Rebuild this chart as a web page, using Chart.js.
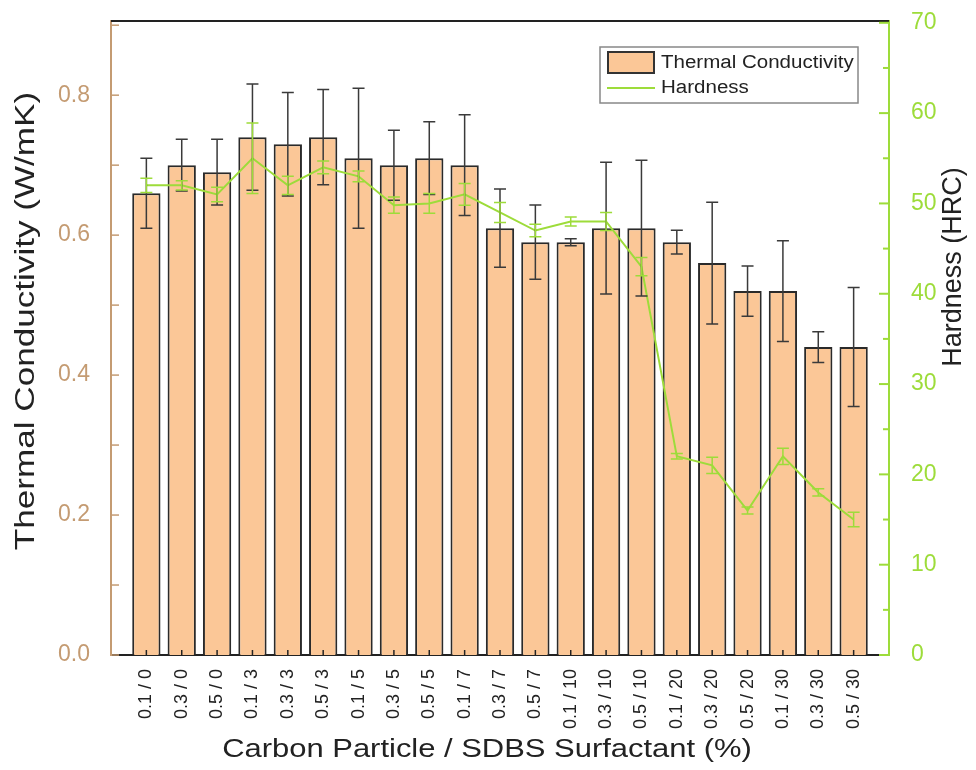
<!DOCTYPE html>
<html>
<head>
<meta charset="utf-8">
<script src="https://cdn.jsdelivr.net/npm/chart.js@4.4.1/dist/chart.umd.min.js"></script>
<style>
  body { margin: 0; background: #fff; }
  #wrap { width: 976px; height: 770px; }
</style>
</head>
<body>
<div id="wrap"><canvas id="myChart" width="976" height="770"></canvas></div>
<script>
// data
let labels = ["0.1 / 0","0.3 / 0","0.5 / 0","0.1 / 3","0.3 / 3","0.5 / 3","0.1 / 5","0.3 / 5","0.5 / 5","0.1 / 7","0.3 / 7","0.5 / 7",
  "0.1 / 10","0.3 / 10","0.5 / 10","0.1 / 20","0.3 / 20","0.5 / 20","0.1 / 30","0.3 / 30","0.5 / 30"];
let thermal = [0.66,0.70,0.69,0.74,0.73,0.74,0.71,0.70,0.71,0.70,0.61,0.59,0.59,0.61,0.61,0.59,0.56,0.52,0.52,0.44,0.44];
let thermalErr = [0.05,0.037,0.047,0.076,0.074,0.068,0.10,0.05,0.052,0.072,0.056,0.053,0.005,0.094,0.097,0.017,0.087,0.036,0.072,0.022,0.085];
let hardness = [52,52,51,55,52,54,53,49.8,50,51,49,47,48,48,43,22,21,16,22,18,15];
let hardnessErr = [0.8,0.5,0.8,3.9,1,0.7,0.6,0.9,1.1,1.2,1.1,0.7,0.5,1,1,0.3,0.9,0.4,0.9,0.4,0.8];
let leftTicks = [0, 0.1, 0.2, 0.3, 0.4, 0.5, 0.6, 0.7, 0.8, 0.9];
let leftLabels = ["0.0", "", "0.2", "", "0.4", "", "0.6", "", "0.8", ""];
let rightTicks = [0, 5, 10, 15, 20, 25, 30, 35, 40, 45, 50, 55, 60, 65, 70];
let rightLabels = ["0", "", "10", "", "20", "", "30", "", "40", "", "50", "", "60", "", "70"];

let xTitle = "Carbon Particle / SDBS Surfactant (%)";
let yTitle = "Thermal Conductivity (W/mK)";
let y1Title = "Hardness (HRC)";

const tan = "#c49b72";
const green = "#9ddc3a";
const peach = "#fbc797";
const font = "'Liberation Sans', Arial, sans-serif";

// text drawn a bit wider than the font, like the original figure
function wideText(c, txt, x, y, rot, sx, size, align) {
  c.save();
  c.translate(x, y);
  c.rotate(rot);
  c.scale(sx, 1);
  c.font = size + "px " + font;
  c.fillStyle = "#222";
  c.textAlign = align || "center";
  c.textBaseline = "middle";
  c.fillText(txt, 0, 0);
  c.restore();
}

// error bars, inward tick marks, legend, titles
const extras = {
  id: "extras",
  afterDatasetsDraw(chart) {
    const c = chart.ctx;
    const xs = chart.scales.x, y = chart.scales.y, y1 = chart.scales.y1;
    const a = chart.chartArea;

    function errBars(vals, errs, sc, color, w) {
      c.save();
      c.strokeStyle = color;
      c.lineWidth = w;
      vals.forEach((v, i) => {
        let px = xs.getPixelForValue(i + 1);
        let top = sc.getPixelForValue(v + errs[i]);
        let bot = sc.getPixelForValue(v - errs[i]);
        c.beginPath();
        c.moveTo(px, top); c.lineTo(px, bot);
        c.moveTo(px - 6, top); c.lineTo(px + 6, top);
        c.moveTo(px - 6, bot); c.lineTo(px + 6, bot);
        c.stroke();
      });
      c.restore();
    }
    errBars(thermal, thermalErr, y, "#3a3a3a", 1.5);
    errBars(hardness, hardnessErr, y1, green, 1.5);

    c.save();
    // top frame
    c.strokeStyle = "#222";
    c.lineWidth = 2;
    c.beginPath(); c.moveTo(a.left, a.top); c.lineTo(a.right, a.top); c.stroke();

    // left ticks (inward)
    c.strokeStyle = tan; c.lineWidth = 1.5;
    y.ticks.forEach(t => {
      let py = y.getPixelForValue(t.value);
      c.beginPath(); c.moveTo(a.left, py); c.lineTo(a.left + 8, py); c.stroke();
    });
    // right ticks (inward)
    c.strokeStyle = green; c.lineWidth = 2;
    y1.ticks.forEach(t => {
      let py = y1.getPixelForValue(t.value);
      let len = t.value % 10 === 0 ? 10 : 6;
      c.beginPath(); c.moveTo(a.right, py); c.lineTo(a.right - len, py); c.stroke();
    });
    // bottom ticks (inward)
    c.strokeStyle = "#222"; c.lineWidth = 1.5;
    labels.forEach((l, i) => {
      let px = xs.getPixelForValue(i + 1);
      c.beginPath(); c.moveTo(px, a.bottom); c.lineTo(px, a.bottom - 5); c.stroke();
    });

    // legend
    c.fillStyle = "#fff";
    c.fillRect(600, 47, 258, 56);
    c.strokeStyle = "#888"; c.lineWidth = 1.5;
    c.strokeRect(600, 47, 258, 56);
    c.fillStyle = peach;
    c.fillRect(608, 52, 46, 21);
    c.strokeStyle = "#333"; c.lineWidth = 2;
    c.strokeRect(608, 52, 46, 21);
    c.strokeStyle = green; c.lineWidth = 2;
    c.beginPath(); c.moveTo(607, 88); c.lineTo(655, 88); c.stroke();
    c.restore();
    wideText(c, chart.data.datasets[0].label, 661, 63, 0, 1.14, 18, "left");
    wideText(c, chart.data.datasets[1].label, 661, 88, 0, 1.14, 18, "left");

    // axis titles
    wideText(c, xTitle, 487, 750, 0, 1.19, 26);
    wideText(c, yTitle, 27, 321, -Math.PI / 2, 1.3, 27);
    wideText(c, y1Title, 954, 267, -Math.PI / 2, 1.0, 27);
  }
};

new Chart(document.getElementById("myChart"), {
  type: "bar",
  data: {
    datasets: [{
      label: "Thermal Conductivity",
      data: thermal.map((v, i) => ({ x: i + 1, y: v })),
      backgroundColor: peach,
      borderColor: "#2a2a2a",
      borderWidth: 2,
      categoryPercentage: 1,
      barPercentage: 0.8,
      yAxisID: "y",
      order: 1
    }, {
      type: "line",
      label: "Hardness",
      data: hardness.map((v, i) => ({ x: i + 1, y: v })),
      borderColor: green,
      borderWidth: 2,
      pointRadius: 0,
      tension: 0,
      yAxisID: "y1",
      order: 0
    }]
  },
  options: {
    responsive: false,
    animation: false,
    layout: { padding: { top: 21, left: 0, right: 0, bottom: 0 } },
    plugins: { legend: { display: false }, tooltip: { enabled: false } },
    scales: {
      x: {
        type: "linear",
        offset: false,
        min: 0, max: 22,
        grid: { display: false },
        border: { display: true, color: "#222", width: 2 },
        afterBuildTicks: s => { s.ticks = labels.map((l, i) => ({ value: i + 1 })); },
        afterFit: s => { s.height = 115; s.paddingLeft = 0; s.paddingRight = 0; },
        ticks: {
          autoSkip: false, minRotation: 90, maxRotation: 90, padding: 6,
          color: "#222", font: { family: font, size: 18 },
          callback: v => labels[v - 1]
        }
      },
      y: {
        position: "left",
        min: 0, max: 0.906,
        grid: { display: false },
        border: { display: true, color: tan, width: 2 },
        afterBuildTicks: s => { s.ticks = leftTicks.map(v => ({ value: v })); },
        afterFit: s => { s.width = 111; s.paddingTop = 0; s.paddingBottom = 0; },
        ticks: {
          autoSkip: false, padding: 13, color: tan, font: { family: font, size: 23 },
          callback: (v, i) => leftLabels[i]
        }
      },
      y1: {
        position: "right",
        min: 0, max: 70.2,
        grid: { display: false },
        border: { display: true, color: green, width: 2 },
        afterBuildTicks: s => { s.ticks = rightTicks.map(v => ({ value: v })); },
        afterFit: s => { s.width = 87; s.paddingTop = 0; s.paddingBottom = 0; },
        ticks: {
          autoSkip: false, padding: 14, color: green, font: { family: font, size: 23 },
          callback: (v, i) => rightLabels[i]
        }
      }
    }
  },
  plugins: [extras]
});
</script>
</body>
</html>
